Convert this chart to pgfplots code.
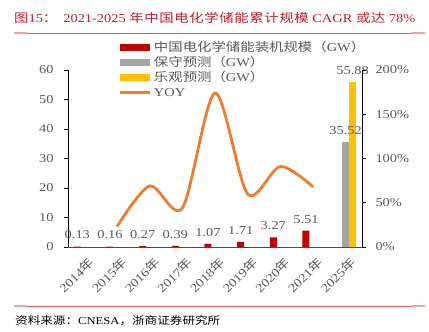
\documentclass[border=0pt]{standalone}
\usepackage{pgfplots}
\pgfplotsset{compat=1.18}
\usepackage{fontspec}
\setmainfont{Liberation Serif}[FakeStretch=1.2]
\newfontfamily\cjkf{Noto Sans CJK SC}[FakeStretch=1.2]
\newfontfamily\cjktf{Noto Sans CJK SC}[FakeStretch=1.2,LetterSpace=5]
\newcommand\zh[1]{{\cjkf #1}}
\newcommand\zht[1]{{\cjktf #1}}
\definecolor{cred}{RGB}{192,0,0}
\definecolor{cgray}{RGB}{165,165,165}
\definecolor{cyel}{RGB}{255,192,0}
\definecolor{corange}{RGB}{237,125,49}
\definecolor{ctitle}{RGB}{190,30,45}
\definecolor{ctext}{RGB}{89,89,89}
\definecolor{cline}{RGB}{222,90,90}
\begin{document}
\begin{tikzpicture}
\path[use as bounding box] (0,0) rectangle (429pt,332pt);
\node[anchor=base west, inner sep=0, text=ctitle, font=\fontsize{12}{14}\selectfont] at (14pt,309pt)
 {\zh{图}15\zh{：}\hspace{6pt}2021-2025 \zht{年中国电化学储能累计规模} CAGR \zht{或达} 78\%};
\draw[cline, line width=0.8pt] (14pt,299pt) -- (425pt,299pt);
\draw[cline!55, line width=2pt] (14pt,299pt) -- (27pt,299pt);
\draw[cline!55, line width=2pt] (411pt,299pt) -- (425pt,299pt);
\draw[cline, line width=0.8pt] (14pt,26pt) -- (425pt,26pt);
\draw[cline!55, line width=2pt] (14pt,26pt) -- (27pt,26pt);
\draw[cline!55, line width=2pt] (411pt,26pt) -- (425pt,26pt);
\node[anchor=base west, inner sep=0, font=\fontsize{10.5}{12}\selectfont] at (15pt,7pt)
 {\zh{资料来源：}CNESA\zh{，浙商证券研究所}};
\begin{axis}[
  at={(68pt,85pt)}, anchor=south west, width=294pt, height=177pt, scale only axis,
  xmin=-0.5, xmax=8.5, ymin=0, ymax=60,
  axis y line*=left, axis x line*=bottom,
  axis line style={-},
  x axis line style={draw=black!70, line width=0.8pt},
  y axis line style={draw=black, line width=0.8pt},
  ytick={0,10,...,60},
  xtick={0,...,8},
  xticklabels={2014\zh{年},2015\zh{年},2016\zh{年},2017\zh{年},2018\zh{年},2019\zh{年},2020\zh{年},2021\zh{年},2025\zh{年}},
  x tick style={draw=none},
  y tick style={draw=black, line width=0.8pt},
  tick align=outside, major tick length=4pt,
  ticklabel style={text=ctext, font=\fontsize{12}{14}\selectfont},
  yticklabel style={xshift=-7pt},
  xticklabel style={rotate=45, anchor=north east, inner sep=1pt, yshift=-5pt},
  /pgf/number format/assume math mode=true,
  ybar=0pt, bar width=7pt,
  clip=false,
  nodes near coords,
  every node near coord/.append style={text=ctext, font=\fontsize{12}{14}\selectfont, yshift=4pt},
  legend style={at={(0.17,1.169)}, anchor=north west, draw=none, fill=none, inner sep=0pt,
    font=\fontsize{12}{14}\selectfont, text=ctext, column sep=2pt,
    nodes={inner sep=1pt, text height=10pt, text depth=3pt}},
  legend cell align=left,
]
\addplot[fill=cred, draw=none, bar shift=-7pt,
  legend image code/.code={\fill[cred] (0pt,-3.5pt) rectangle (30pt,3.5pt);}]
  coordinates {(0,0.13)(1,0.16)(2,0.27)(3,0.39)(4,1.07)(5,1.71)(6,3.27)(7,5.51)};
\addlegendentry{\zh{中国电化学储能装机规模（}GW\zh{）}}
\addplot[fill=cgray, draw=none, bar shift=0pt,
  legend image code/.code={\fill[cgray] (0pt,-3.5pt) rectangle (30pt,3.5pt);}]
  coordinates {(8,35.52)};
\addlegendentry{\zh{保守预测（}GW\zh{）}}
\addplot[fill=cyel, draw=none, bar shift=7pt,
  legend image code/.code={\fill[cyel] (0pt,-3.5pt) rectangle (30pt,3.5pt);}]
  coordinates {(8,55.88)};
\addlegendentry{\zh{乐观预测（}GW\zh{）}}
\addlegendimage{corange, line width=2.8pt, legend image code/.code={\draw[corange, line width=2.8pt] (0pt,0pt) -- (30pt,0pt);}}
\addlegendentry{YOY}
\end{axis}
\begin{axis}[
  at={(68pt,85pt)}, anchor=south west, width=294pt, height=177pt, scale only axis,
  xmin=-0.5, xmax=8.5, ymin=0, ymax=200,
  axis y line*=right, axis x line=none,
  axis line style={-},
  y axis line style={draw=black, line width=0.8pt},
  ytick={0,50,...,200},
  yticklabel={\pgfmathprintnumber{\tick}\%},
  y tick style={draw=black, line width=0.8pt},
  tick align=outside, major tick length=4pt,
  ticklabel style={text=ctext, font=\fontsize{12}{14}\selectfont},
  yticklabel style={xshift=6pt},
  /pgf/number format/assume math mode=true,
  clip=false,
]
\addplot[corange, line width=2.8pt, smooth, tension=0.5] coordinates {(1,23)(2,69)(3,44)(4,174)(5,60)(6,91)(7,68)};
\end{axis}
\end{tikzpicture}
\end{document}
